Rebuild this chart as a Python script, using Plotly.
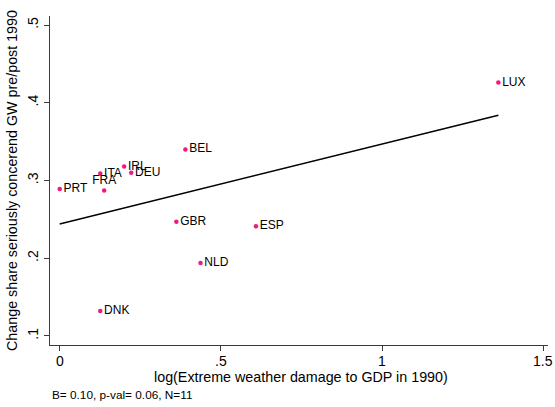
import numpy as np
import plotly.graph_objects as go

# Country-level observations
countries = ["PRT", "ITA", "FRA", "IRL", "DEU", "BEL", "LUX", "GBR", "ESP", "NLD", "DNK"]
log_damage = [0.000, 0.126, 0.138, 0.200, 0.222, 0.390, 1.361, 0.362, 0.609, 0.437, 0.126]
share_change = [0.289, 0.309, 0.287, 0.318, 0.310, 0.340, 0.426, 0.247, 0.241, 0.194, 0.132]
label_pos = ["middle right", "middle right", "top center", "middle right", "middle right",
             "middle right", "middle right", "middle right", "middle right", "middle right",
             "middle right"]

x_ticks = [0, 0.5, 1, 1.5]
x_tick_text = ["0", ".5", "1", "1.5"]
y_ticks = [0.1, 0.2, 0.3, 0.4, 0.5]
y_tick_text = [".1", ".2", ".3", ".4", ".5"]

# OLS fit line over the observed x span
x_arr = np.array(log_damage)
y_arr = np.array(share_change)
slope, intercept = np.polyfit(x_arr, y_arr, 1)
fit_x = np.array([x_arr.min(), x_arr.max()])
fit_y = intercept + slope * fit_x

FONT = "Liberation Sans, Arial, Helvetica, sans-serif"
PINK = "#ee1a7e"
AXIS = "#3a3a3a"

fig = go.Figure()
fig.add_trace(go.Scatter(
    x=log_damage, y=share_change, mode="markers+text",
    text=countries,
    textposition=label_pos,
    textfont=dict(family=FONT, size=12, color="black"),
    marker=dict(color=PINK, size=4.5),
    cliponaxis=False, showlegend=False, hoverinfo="skip",
))
fig.add_trace(go.Scatter(
    x=fit_x, y=fit_y, mode="lines",
    line=dict(color="black", width=1.5),
    showlegend=False, hoverinfo="skip",
))

# x tick labels sit a little further below the axis than plotly's default
x_tick_labels = [
    dict(text=t, xref="x", yref="paper", x=v, y=-0.0486,
         xanchor="center", yanchor="middle", showarrow=False,
         font=dict(family=FONT, size=14, color="black"))
    for v, t in zip(x_ticks, x_tick_text)
]

fig.update_layout(
    width=555, height=407,
    margin=dict(l=50, r=7, t=16, b=62),
    paper_bgcolor="white", plot_bgcolor="white",
    font=dict(family=FONT, size=14, color="black"),
    annotations=x_tick_labels + [
        dict(
            text="log(Extreme weather damage to GDP in 1990)",
            xref="paper", yref="paper", x=0.505, y=-0.097,
            xanchor="center", yanchor="middle", showarrow=False,
            font=dict(family=FONT, size=14.3, color="black"),
        ),
        dict(
            text=f"B= {slope:.2f}, p-val= 0.06, N={len(countries)}",
            xref="paper", yref="paper", x=0.0, y=-0.126,
            xanchor="left", yanchor="top", showarrow=False,
            font=dict(family=FONT, size=11.8, color="black"),
        ),
    ],
)
fig.update_xaxes(
    range=[-0.030, 1.515], tickvals=x_ticks, showticklabels=False,
    showgrid=False, zeroline=False, showline=True, linecolor=AXIS, linewidth=1,
    ticks="outside", ticklen=5, tickcolor=AXIS,
)
fig.update_yaxes(
    range=[0.0884, 0.5116], tickvals=y_ticks, ticktext=y_tick_text,
    showgrid=False, zeroline=False, showline=True, linecolor=AXIS, linewidth=1,
    ticks="outside", ticklen=5, tickcolor=AXIS, tickangle=-90,
    tickfont=dict(size=14),
    title=dict(text="Change share seriously concerend GW pre/post 1990", standoff=4,
               font=dict(size=14.3)),
)

fig.write_html("out.html")
